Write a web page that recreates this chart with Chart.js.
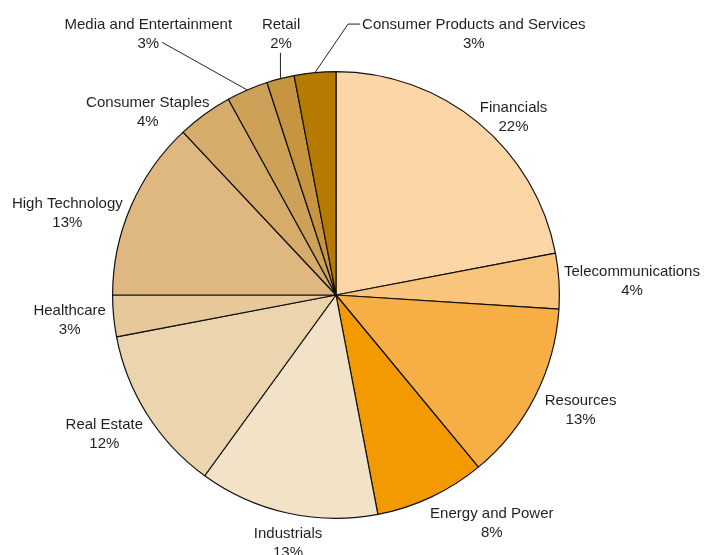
<!DOCTYPE html>
<html>
<head>
<meta charset="utf-8">
<script src="https://cdn.jsdelivr.net/npm/chart.js@4.4.1/dist/chart.umd.min.js"></script>
<style>
    html, body { margin: 0; padding: 0; background: #fff; }
    #wrap { width: 704px; height: 555px; }
</style>
</head>
<body>
<div id="wrap"><canvas id="pieCanvas" width="704" height="555"></canvas></div>
<script>
// セクター別の構成比（%）
const sectors = [
    'Financials', 'Telecommunications', 'Resources', 'Energy and Power',
    'Industrials', 'Real Estate', 'Healthcare', 'High Technology',
    'Consumer Staples', 'Media and Entertainment', 'Retail',
    'Consumer Products and Services'
];
const shares = [22, 4, 13, 8, 13, 12, 3, 13, 4, 3, 2, 3];
const sliceColors = [
    '#fcd6a6', '#f9c47b', '#f7ae44', '#f29a00',
    '#f2e2c8', '#ecd4af', '#e6c89a', '#deb880',
    '#d5ac6a', '#cea158', '#c79540', '#b77a00'
];

// ラベル配置: 外周からの距離(dr)と中心角からのずれ(da, 度)
// leader があるものは引き出し線を描く
const labelPlacement = [
    { dr: 29, da: 5.1 },
    { dr: 73, da: 0.5 },
    { dr: 46, da: -2.2 },
    { dr: 51, da: -9.4 },
    { dr: 28, da: -1.6 },
    { dr: 46, da: 1.7 },
    { dr: 44, da: 0.3 },
    { dr: 58, da: -6.1 },
    { dr: 40, da: -9.6 },
    { dr: 99, da: -12.2, leader: 'right2' },
    { dr: 45, da: 2.6, leader: 'bottom' },
    { dr: 73, da: 33.1, leader: 'left1' }
];

const FONT = '15px "Liberation Sans", Arial, sans-serif';
const LINE_H = 19;
const TEXT_SHIFT = 2; // textBaseline middle の見た目補正

// 扇形の外側にラベルと引き出し線を描くプラグイン
const outsideLabels = {
    id: 'outsideLabels',
    afterDatasetsDraw(chart) {
        const ctx = chart.ctx;
        const meta = chart.getDatasetMeta(0);
        ctx.save();
        ctx.font = FONT;
        ctx.fillStyle = '#231f20';
        ctx.textAlign = 'center';
        ctx.textBaseline = 'middle';
        meta.data.forEach((arc, i) => {
            const p = arc.getProps(['x', 'y', 'startAngle', 'endAngle', 'outerRadius'], true);
            const mid = (p.startAngle + p.endAngle) / 2;
            const opt = labelPlacement[i];
            const a = mid + opt.da * Math.PI / 180;
            const dist = p.outerRadius + opt.dr;
            const cx = p.x + dist * Math.cos(a);
            const cy = p.y + dist * Math.sin(a);
            const lines = [sectors[i], shares[i] + '%'];
            const y1 = cy - LINE_H / 2;
            const y2 = cy + LINE_H / 2;
            ctx.fillText(lines[0], cx, y1 + TEXT_SHIFT);
            ctx.fillText(lines[1], cx, y2 + TEXT_SHIFT);

            if (opt.leader) {
                const w1 = ctx.measureText(lines[0]).width;
                const w2 = ctx.measureText(lines[1]).width;
                const sx = p.x + p.outerRadius * Math.cos(mid);
                const sy = p.y + p.outerRadius * Math.sin(mid);
                ctx.beginPath();
                ctx.strokeStyle = '#231f20';
                ctx.lineWidth = 1;
                ctx.moveTo(sx, sy);
                if (opt.leader === 'right2') {
                    ctx.lineTo(cx + w2 / 2 + 3, y2);
                } else if (opt.leader === 'bottom') {
                    ctx.lineTo(sx, y2 + 11);
                } else if (opt.leader === 'left1') {
                    const ex = cx - w1 / 2 - 2;
                    ctx.lineTo(ex - 12, y1 + 1);
                    ctx.lineTo(ex, y1 + 1);
                }
                ctx.stroke();
            }
        });
        ctx.restore();
    }
};

function initChart() {
    const canvas = document.getElementById('pieCanvas');
    new Chart(canvas, {
        type: 'pie',
        data: {
            labels: sectors,
            datasets: [{
                data: shares,
                backgroundColor: sliceColors,
                borderColor: '#111',
                borderWidth: 1.2
            }]
        },
        options: {
            responsive: false,
            animation: false,
            layout: {
                padding: { left: 112, right: 144, top: 71, bottom: 36 }
            },
            plugins: {
                legend: { display: false },
                tooltip: { enabled: false }
            }
        },
        plugins: [outsideLabels]
    });
}

document.addEventListener('DOMContentLoaded', initChart);
</script>
</body>
</html>
